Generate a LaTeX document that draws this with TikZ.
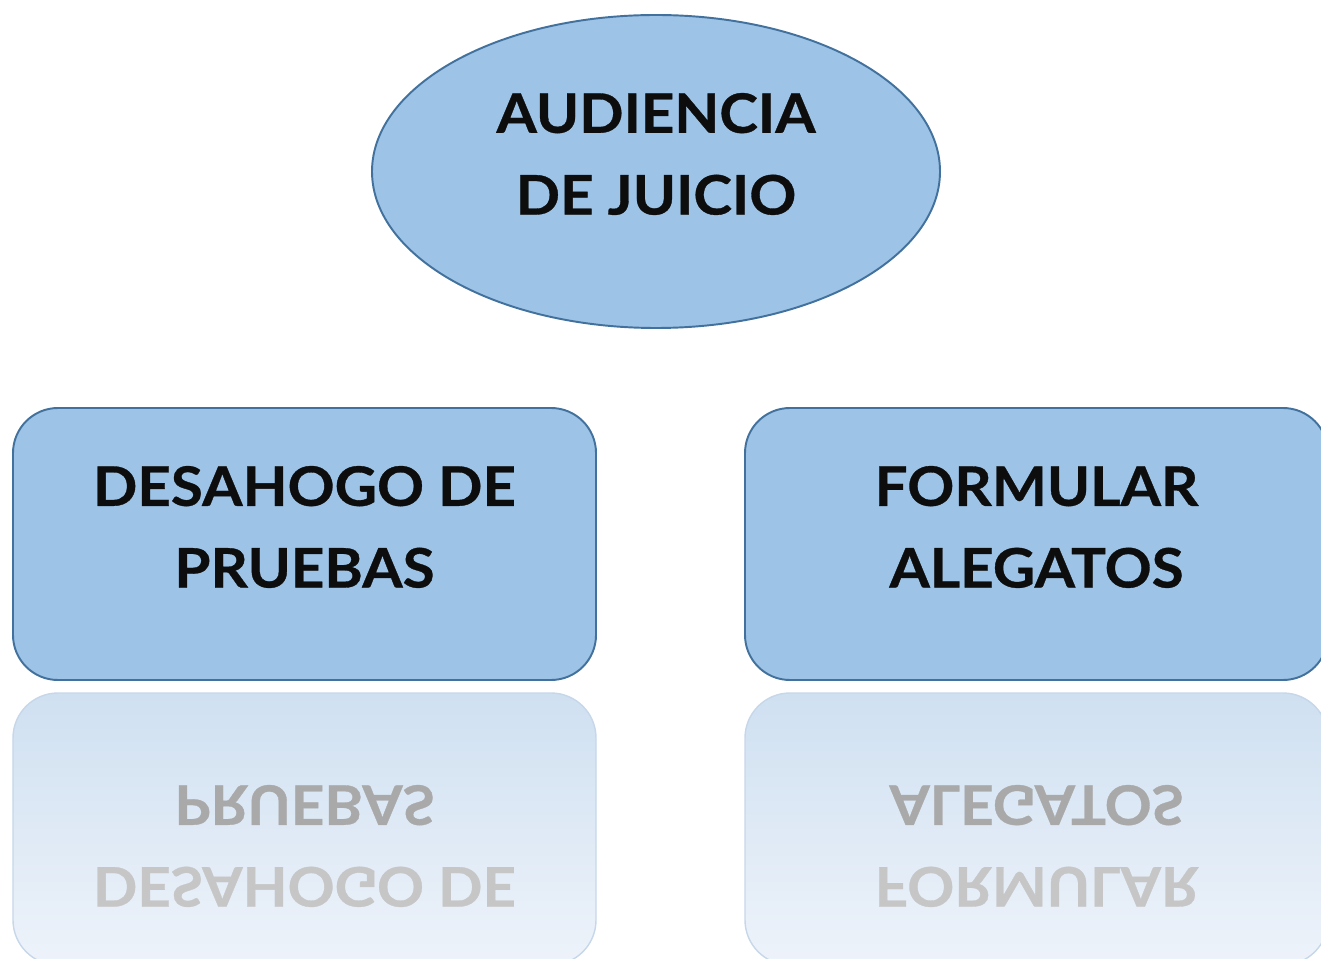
\documentclass[tikz,border=0pt]{standalone}
\usepackage{fontspec}
\setmainfont{Lato}
\newfontfamily\stagefont[FakeStretch=1.07, FakeBold=0.6]{Lato}
\usetikzlibrary{shapes.geometric}

\definecolor{stagefill}{HTML}{9DC3E6}
\definecolor{stageline}{HTML}{41719C}
\definecolor{mirrortop}{HTML}{CFE0F1}
\definecolor{mirrorbot}{HTML}{EEF3FA}
\definecolor{mirrorline}{HTML}{C6D7EA}
\definecolor{mirrortextA}{HTML}{A9A9A9}
\definecolor{mirrortextB}{HTML}{C6C6C6}

\begin{document}
\begin{tikzpicture}[
   stagetext/.style={font=\stagefont\fontsize{31}{46.5}\selectfont\bfseries, align=center, text=black!95},
   stage/.style={draw=stageline, line width=1.1pt, fill=stagefill, rounded corners=0.9cm,
                 minimum width=11.66cm, minimum height=5.44cm},
   mirror/.style={draw=mirrorline, line width=0.8pt, rounded corners=0.9cm,
                  top color=mirrortop, bottom color=mirrorbot,
                  minimum width=11.66cm, minimum height=5.44cm}]

   \clip (0,0) rectangle (26.42,19.16);

   \node [ellipse, draw=stageline, line width=1.1pt, fill=stagefill,
          minimum width=11.36cm, minimum height=6.26cm] (vAudiencia) at (13.12,15.73) {};
   \node [stagetext] (tAudiencia) at (13.12,16.08) {AUDIENCIA\\DE JUICIO};

   \foreach \n/\x/\a/\b in {Desahogo/6.09/DESAHOGO DE/PRUEBAS, Formular/20.73/FORMULAR/ALEGATOS} {
     \node [mirror] (r\n) at (\x,2.58) {};
     \node [stage] (v\n) at (\x,8.28) {};
     \node [stagetext] (t\n) at (\x,8.62) {\a\\\b};
     \begin{scope}[yshift=5.43cm, yscale=-1]
       \node [stagetext, transform shape] (m\n) at (\x,3.19)
          {{\color{mirrortextB}\a}\\{\color{mirrortextA}\b}};
     \end{scope}
   }
\end{tikzpicture}
\end{document}
